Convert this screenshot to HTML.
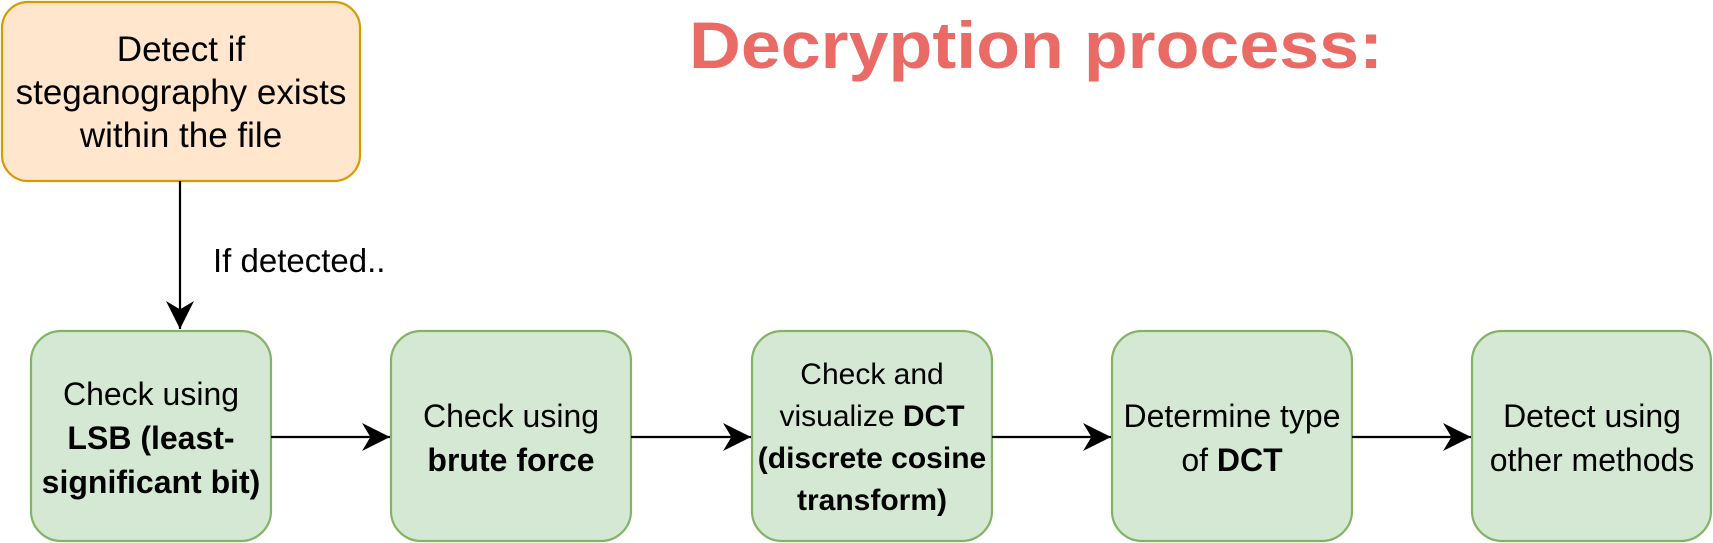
<!DOCTYPE html>
<html><head><meta charset="utf-8"><style>
body{margin:0;background:#fff;}
svg{display:block;font-family:"Liberation Sans",Arial,sans-serif;}
</style></head><body>
<svg width="1713" height="543" viewBox="0 0 1713 543" xmlns="http://www.w3.org/2000/svg">
<defs>
<marker id="b" viewBox="0 0 10 10" markerWidth="28" markerHeight="28" refX="10" refY="5" orient="auto" markerUnits="userSpaceOnUse"><path d="M0,0 L10,5 L0,10 L3,5 Z" fill="#000"/></marker></defs>
<rect x="2" y="2" width="358" height="179" rx="26" fill="#ffe6cc" stroke="#d79b00" stroke-width="2.2"/>
<g font-size="35" text-anchor="middle" fill="#000">
<text x="181" y="61">Detect if</text>
<text x="181" y="104">steganography exists</text>
<text x="181" y="147">within the file</text>
</g>
<text x="1036" y="68" font-size="66" font-weight="bold" fill="#ea6b66" text-anchor="middle" textLength="694" lengthAdjust="spacingAndGlyphs">Decryption process:</text>
<line x1="180" y1="181" x2="180" y2="329" stroke="#000" stroke-width="2.2" marker-end="url(#b)"/>
<text x="213" y="272" font-size="33">If detected..</text>
<g fill="#d5e8d4" stroke="#82b366" stroke-width="2.2">
<rect x="31" y="331" width="240" height="210" rx="30"/>
<rect x="391" y="331" width="240" height="210" rx="30"/>
<rect x="752" y="331" width="240" height="210" rx="30"/>
<rect x="1112" y="331" width="240" height="210" rx="30"/>
<rect x="1472" y="331" width="239" height="210" rx="30"/>
</g>
<g stroke="#000" stroke-width="2.2">
<line x1="271" y1="437" x2="390" y2="437" marker-end="url(#b)"/>
<line x1="631" y1="437" x2="751" y2="437" marker-end="url(#b)"/>
<line x1="992" y1="437" x2="1111" y2="437" marker-end="url(#b)"/>
<line x1="1352" y1="437" x2="1471" y2="437" marker-end="url(#b)"/>
</g>
<g font-size="32" text-anchor="middle" fill="#000">
<text x="151" y="405">Check using</text>
<text x="151" y="449" font-weight="bold">LSB (least-</text>
<text x="151" y="493" font-weight="bold">significant bit)</text>
<text x="511" y="427">Check using</text>
<text x="511" y="471" font-weight="bold">brute force</text>
<text x="1232" y="427">Determine type</text>
<text x="1232" y="471">of <tspan font-weight="bold">DCT</tspan></text>
<text x="1592" y="427">Detect using</text>
<text x="1592" y="471">other methods</text>
</g>
<g font-size="30" text-anchor="middle" fill="#000">
<text x="872" y="384">Check and</text>
<text x="872" y="426">visualize <tspan font-weight="bold">DCT</tspan></text>
<text x="872" y="468" font-weight="bold">(discrete cosine</text>
<text x="872" y="510" font-weight="bold">transform)</text>
</g>
</svg>
</body></html>
